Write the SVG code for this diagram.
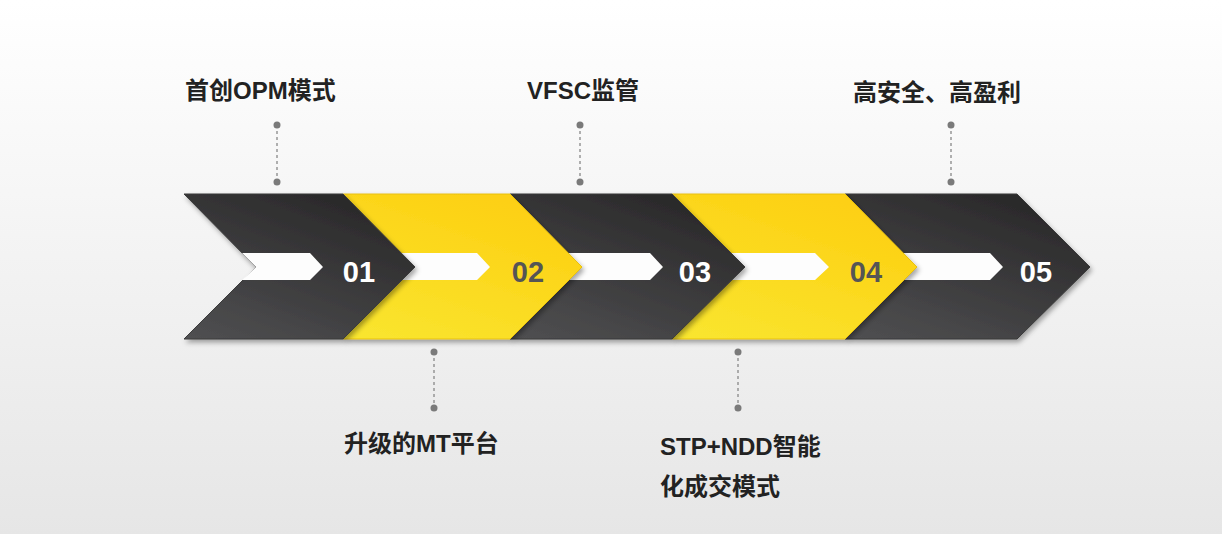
<svg xmlns="http://www.w3.org/2000/svg" width="1222" height="534" viewBox="0 0 1222 534">
<defs>
<linearGradient id="bg" x1="0" y1="0" x2="0" y2="1"><stop offset="0" stop-color="#ffffff"/><stop offset="1" stop-color="#e6e6e6"/></linearGradient>
<linearGradient id="dk" x1="0" y1="1" x2="0.6" y2="0"><stop offset="0" stop-color="#505052"/><stop offset="1" stop-color="#2b2a2b"/></linearGradient>
<linearGradient id="yl" x1="0" y1="1" x2="0.6" y2="0"><stop offset="0" stop-color="#f9e630"/><stop offset="1" stop-color="#fdd012"/></linearGradient>
<filter id="sh" x="-10%" y="-10%" width="130%" height="130%"><feDropShadow dx="2" dy="3" stdDeviation="2.5" flood-color="#000" flood-opacity="0.35"/></filter>
</defs>
<style>
.lbl{font-family:"Liberation Sans","Noto Sans CJK SC",sans-serif;font-weight:bold;font-size:24px;fill:#222}
.num{font-family:"Liberation Sans",sans-serif;font-weight:bold;font-size:29px;text-anchor:middle}
.bar{fill:#fdfdfd}
.dot{fill:#7a7a7a}
.ln{stroke:#888;stroke-width:1.3;stroke-dasharray:3 3;fill:none}
</style>
<rect width="1222" height="534" fill="url(#bg)"/>
<g id="chev5"><polygon points="845,194 1017,194 1090,267 1017,339 845,339 917,267" fill="url(#dk)" stroke="#3a3a3a" filter="url(#sh)"/><polygon class="bar" points="903,253 990,253 1003,267 990,280 903,280 917,267"/><text class="num" x="1036" y="282" fill="#fff">05</text></g>
<g id="chev4"><polygon points="672,194 845,194 917,267 845,339 672,339 745,267" fill="url(#yl)" stroke="#e8c010" filter="url(#sh)"/><polygon class="bar" points="730,253 815,253 829,267 815,280 730,280 745,267"/><text class="num" x="866" y="282" fill="#555">04</text></g>
<g id="chev3"><polygon points="510,194 672,194 745,267 672,339 510,339 582,267" fill="url(#dk)" stroke="#3a3a3a" filter="url(#sh)"/><polygon class="bar" points="568,253 650,253 663,267 650,280 568,280 582,267"/><text class="num" x="695" y="282" fill="#fff">03</text></g>
<g id="chev2"><polygon points="343,194 510,194 582,267 510,339 343,339 415,267" fill="url(#yl)" stroke="#e8c010" filter="url(#sh)"/><polygon class="bar" points="400,253 477,253 490,267 477,280 400,280 415,267"/><text class="num" x="528" y="282" fill="#555">02</text></g>
<g id="chev1"><polygon points="184,194 343,194 415,267 343,339 184,339 256,267" fill="url(#dk)" stroke="#3a3a3a" filter="url(#sh)"/><polygon class="bar" points="242,253 310,253 323,267 310,280 242,280 256,267"/><text class="num" x="359" y="282" fill="#fff">01</text></g>
<g id="connectors">
<line class="ln" x1="277" y1="125" x2="277" y2="182"/><circle class="dot" cx="277" cy="125" r="3.5"/><circle class="dot" cx="277" cy="182" r="3.5"/>
<line class="ln" x1="580" y1="125" x2="580" y2="182"/><circle class="dot" cx="580" cy="125" r="3.5"/><circle class="dot" cx="580" cy="182" r="3.5"/>
<line class="ln" x1="951" y1="125" x2="951" y2="182"/><circle class="dot" cx="951" cy="125" r="3.5"/><circle class="dot" cx="951" cy="182" r="3.5"/>
<line class="ln" x1="434" y1="352" x2="434" y2="408"/><circle class="dot" cx="434" cy="352" r="3.5"/><circle class="dot" cx="434" cy="408" r="3.5"/>
<line class="ln" x1="738" y1="352" x2="738" y2="408"/><circle class="dot" cx="738" cy="352" r="3.5"/><circle class="dot" cx="738" cy="408" r="3.5"/>
</g>
<g id="labels">
<text class="lbl" x="185" y="99">首创OPM模式</text>
<text class="lbl" x="527" y="99">VFSC监管</text>
<text class="lbl" x="853" y="101">高安全、高盈利</text>
<text class="lbl" x="344" y="452">升级的MT平台</text>
<text class="lbl" x="660" y="455">STP+NDD智能</text>
<text class="lbl" x="660" y="495">化成交模式</text>
</g>
</svg>
